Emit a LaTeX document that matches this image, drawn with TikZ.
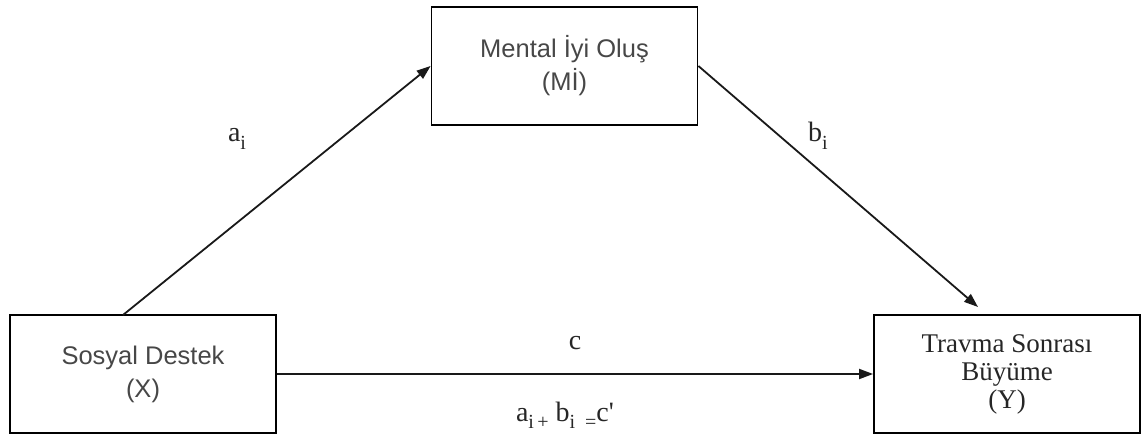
\documentclass[tikz,border=0pt]{standalone}
\usepackage{fontspec}
\setmainfont{Liberation Serif}
\newfontfamily\arialf{Liberation Sans}
\newfontfamily\rawserif{Liberation Serif}[Ligatures=TeXOff]
\usetikzlibrary{arrows.meta}
\newcommand{\subi}[1]{\raisebox{-0.28em}{\fontsize{20}{20}\selectfont #1}}
\begin{document}
\begin{tikzpicture}[x=1pt,y=-1pt,
  box/.style={draw=black, line width=1.8pt, rectangle, inner sep=0pt,
              minimum width=266pt, minimum height=118pt, align=center},
  sanstxt/.style={font=\arialf\fontsize{25.5}{33}\selectfont, text=black!72},
  seriftxt/.style={font=\fontsize{27}{28}\selectfont, text=black!85},
  conn/.style={line width=1.8pt, draw=black!90, -{Triangle[length=14pt,width=10pt]}},
  lab/.style={font=\fontsize{28}{28}\selectfont, text=black!85, inner sep=0pt}]
\useasboundingbox (0,0) rectangle (1145,435);
\node[box, sanstxt] (X) at (143,374) {Sosyal Destek\\(X)};
\node[box, sanstxt] (M) at (564.5,66) {Mental İyi Oluş\\(Mİ)};
\node[box, seriftxt] (Y) at (1007,374) {\raisebox{-4pt}{}Travma Sonrası\\Büyüme\\(Y)};
\coordinate (xs) at (123,315);
\coordinate (yt) at (978,307);
\draw[conn] (xs) -- (M.west);
\draw[conn] (M.east) -- (yt);
\draw[conn] (X.east) -- (Y.west);
\node[lab, anchor=base] (la) at (237,142) {a\subi{i}};
\node[lab, anchor=base] (lb) at (818,142) {b\subi{i}};
\node[lab, anchor=base] (lc) at (575,349) {c};
\node[lab, anchor=base] (ld) at (565,421) {a\subi{i\,+} b\subi{i\ \ =}c{\rawserif '}};
\end{tikzpicture}
\end{document}
